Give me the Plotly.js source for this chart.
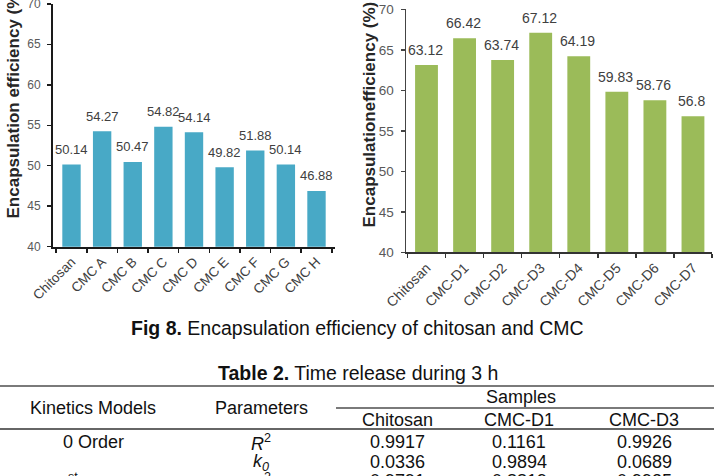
<!DOCTYPE html>
<html>
<head>
<meta charset="utf-8">
<script src="https://cdn.plot.ly/plotly-3.0.1.min.js"></script>
<style>
html, body { margin: 0; padding: 0; background: #ffffff; }
#chart { width: 714px; height: 476px; }
</style>
</head>
<body>
<div id="chart"></div>
<script>
// ---- Data: left chart (Chitosan and CMC A–H) ----
const cmcLabels = ["Chitosan", "CMC A", "CMC B", "CMC C", "CMC D", "CMC E", "CMC F", "CMC G", "CMC H"];
const cmcValues = [50.14, 54.27, 50.47, 54.82, 54.14, 49.82, 51.88, 50.14, 46.88];

// ---- Data: right chart (Chitosan and CMC-D1–D7) ----
const cmcDLabels = ["Chitosan", "CMC-D1", "CMC-D2", "CMC-D3", "CMC-D4", "CMC-D5", "CMC-D6", "CMC-D7"];
const cmcDValues = [63.12, 66.42, 63.74, 67.12, 64.19, 59.83, 58.76, 56.8];

const yTickValues = [40, 45, 50, 55, 60, 65, 70];

// ---- Table 2 data ----
const tableHeaders = ["Kinetics Models", "Parameters"];
const tableSampleNames = ["Chitosan", "CMC-D1", "CMC-D3"];
const tableModels = ["0 Order", "", "1<sup>st</sup> Order"];
const tableParams = ["<i>R</i><sup>2</sup>", "<i>k</i><sub><i>0</i></sub>", "<i>R</i><sup>2</sup>"];
const tableChitosan = [0.9917, 0.0336, 0.9791];
const tableCmcD1 = [0.1161, 0.9894, 0.8819];
const tableCmcD3 = [0.9926, 0.0689, 0.9935];

// ---- helpers (pixel -> paper) ----
const W = 714, H = 476;
const px = x => x / W;
const py = y => 1 - y / H;

const chartFont = "Liberation Sans, Arial, sans-serif";
const textGray = "#404040";

const traces = [
  {
    type: "bar", x: cmcLabels, y: cmcValues, xaxis: "x", yaxis: "y",
    marker: { color: "#48A9C6" }, hoverinfo: "x+y"
  },
  {
    type: "bar", x: cmcDLabels, y: cmcDValues, xaxis: "x2", yaxis: "y2",
    marker: { color: "#9BBB59" }, hoverinfo: "x+y"
  }
];

const annotations = [];

// bar value labels
cmcLabels.forEach((c, i) => annotations.push({
  xref: "x", yref: "y", x: c, y: cmcValues[i], text: String(cmcValues[i]),
  showarrow: false, yanchor: "middle", yshift: 15,
  font: { family: chartFont, size: 13, color: textGray }
}));
cmcDLabels.forEach((c, i) => annotations.push({
  xref: "x2", yref: "y2", x: c, y: cmcDValues[i], text: String(cmcDValues[i]),
  showarrow: false, yanchor: "middle", yshift: 15, xshift: -1,
  font: { family: chartFont, size: 14, color: textGray }
}));

// y-axis titles
annotations.push({
  xref: "paper", yref: "paper", x: px(12.5), y: py(103), text: "<b>Encapsulation efficiency (%)</b>",
  textangle: -90, showarrow: false, xanchor: "center", yanchor: "middle",
  font: { family: chartFont, size: 17, color: "#262626" }
});
annotations.push({
  xref: "paper", yref: "paper", x: px(369), y: py(114.5), text: "<b>Encapsulationefficiency (%)</b>",
  textangle: -90, showarrow: false, xanchor: "center", yanchor: "middle",
  font: { family: chartFont, size: 17, color: "#262626" }
});

// figure caption + table title
annotations.push({
  xref: "paper", yref: "paper", x: px(357.5), y: py(328), text: "<b>Fig 8.</b> Encapsulation efficiency of chitosan and CMC",
  showarrow: false, xanchor: "center", yanchor: "middle",
  font: { family: chartFont, size: 19.5, color: "#111111" }
});
annotations.push({
  xref: "paper", yref: "paper", x: px(357.5), y: py(373), text: "<b>Table 2.</b> Time release during 3 h",
  showarrow: false, xanchor: "center", yanchor: "middle",
  font: { family: chartFont, size: 19.5, color: "#111111" }
});

// table text
const tFont = { family: chartFont, size: 18, color: "#111111" };
const colX = [93, 261, 397, 519, 644];
function cell(x, y, t) {
  annotations.push({ xref: "paper", yref: "paper", x: px(x), y: py(y), text: t,
    showarrow: false, xanchor: "center", yanchor: "middle", font: tFont });
}
cell(colX[0], 408, tableHeaders[0]);
cell(colX[1], 408, tableHeaders[1]);
cell(521, 397, "Samples");
tableSampleNames.forEach((s, i) => cell(colX[2 + i], 420, s));
const rowY = [442, 462, 481];
tableModels.forEach((m, r) => {
  if (m) cell(colX[0], rowY[r], m);
  cell(colX[1], rowY[r], tableParams[r]);
  cell(colX[2], rowY[r], tableChitosan[r].toFixed(4));
  cell(colX[3], rowY[r], tableCmcD1[r].toFixed(4));
  cell(colX[4], rowY[r], tableCmcD3[r].toFixed(4));
});

const shapes = [
  { type: "line", xref: "paper", yref: "paper", x0: 0, x1: 1, y0: py(386), y1: py(386), line: { color: "#7a7a7a", width: 2 } },
  { type: "line", xref: "paper", yref: "paper", x0: px(336), x1: 1, y0: py(408), y1: py(408), line: { color: "#7a7a7a", width: 2 } },
  { type: "line", xref: "paper", yref: "paper", x0: 0, x1: 1, y0: py(429), y1: py(429), line: { color: "#333333", width: 1.5 } }
];

const commonY = {
  range: [40, 70], tickvals: yTickValues, ticks: "outside", ticklen: 4, tickwidth: 1.5,
  showgrid: false, zeroline: false, showline: true, linewidth: 2, fixedrange: true,
  ticklabelstandoff: 4, ticklabeloverflow: "allow"
};
const commonX = {
  type: "category", tickangle: -45, ticks: "outside", tickson: "boundaries", ticklen: 4, tickwidth: 1.5,
  showgrid: false, zeroline: false, showline: true, linewidth: 2, fixedrange: true
};

const layout = {
  width: W, height: H, autosize: false,
  margin: { l: 0, r: 0, t: 0, b: 0, pad: 0 },
  paper_bgcolor: "#ffffff", plot_bgcolor: "#ffffff",
  showlegend: false, bargap: 0.4,
  font: { family: chartFont, color: textGray },
  xaxis: Object.assign({}, commonX, {
    domain: [px(53), px(335)], anchor: "y", linecolor: "#1a1a1a", tickcolor: "#1a1a1a",
    tickfont: { family: chartFont, size: 13.5, color: textGray }
  }),
  yaxis: Object.assign({}, commonY, {
    domain: [py(246.7), py(3.8)], anchor: "x", linecolor: "#1a1a1a", tickcolor: "#1a1a1a",
    tickfont: { family: chartFont, size: 12, color: "#595959" }
  }),
  xaxis2: Object.assign({}, commonX, {
    domain: [px(406), px(712)], anchor: "y2", linecolor: "#333333", tickcolor: "#333333",
    tickfont: { family: chartFont, size: 14, color: textGray }
  }),
  yaxis2: Object.assign({}, commonY, {
    domain: [py(252.3), py(9.3)], anchor: "x2", linecolor: "#444444", tickcolor: "#444444", linewidth: 1.5,
    tickfont: { family: chartFont, size: 13.5, color: "#595959" }
  }),
  annotations: annotations,
  shapes: shapes
};

Plotly.newPlot("chart", traces, layout, { displayModeBar: false, staticPlot: true });
</script>
</body>
</html>
